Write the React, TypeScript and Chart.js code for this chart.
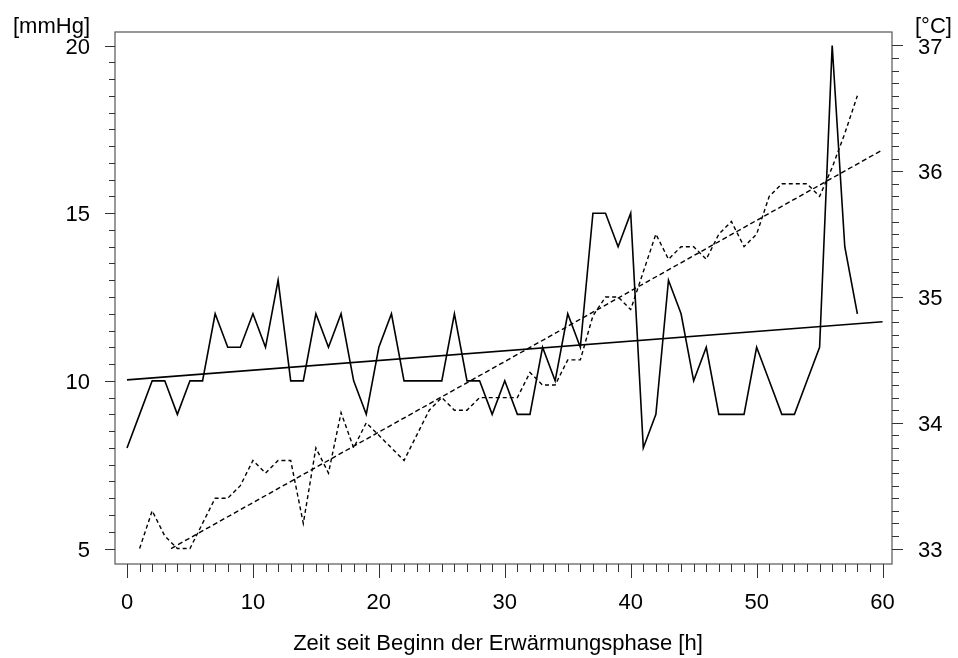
import React, { useEffect, useRef } from 'react';
import { Chart, registerables } from 'chart.js';

Chart.register(...registerables);

// ---- data ----
const pressureHours = [
  0, 1, 2, 3, 4, 5, 6, 7, 8, 9, 10, 11, 12, 13, 14, 15, 16, 17, 18, 19,
  20, 21, 22, 23, 24, 25, 26, 27, 28, 29, 30, 31, 32, 33, 34, 35, 36, 37, 38, 39,
  40, 41, 42, 43, 44, 45, 46, 47, 48, 49, 50, 51, 52, 53, 54, 55, 56, 57, 58,
];
const pressureValues = [
  8, 9, 10, 10, 9, 10, 10, 12, 11, 11, 12, 11, 13, 10, 10, 12, 11, 12, 10, 9,
  11, 12, 10, 10, 10, 10, 12, 10, 10, 9, 10, 9, 9, 11, 10, 12, 11, 15, 15, 14,
  15, 8, 9, 13, 12, 10, 11, 9, 9, 9, 11, 10, 9, 9, 10, 11, 20, 14, 12,
];
const tempHours = [
  1, 2, 3, 4, 5, 6, 7, 8, 9, 10, 11, 12, 13, 14, 15, 16, 17, 18, 19,
  20, 21, 22, 23, 24, 25, 26, 27, 28, 29, 30, 31, 32, 33, 34, 35, 36, 37, 38, 39,
  40, 41, 42, 43, 44, 45, 46, 47, 48, 49, 50, 51, 52, 53, 54, 55, 56, 57, 58,
];
const tempValues = [
  33.0, 33.3, 33.1, 33.0, 33.0, 33.2, 33.4, 33.4, 33.5, 33.7, 33.6, 33.7, 33.7, 33.2, 33.8, 33.6, 34.08, 33.8, 34.0,
  33.9, 33.8, 33.7, 33.9, 34.1, 34.2, 34.1, 34.1, 34.2, 34.2, 34.2, 34.2, 34.4, 34.3, 34.3, 34.5, 34.5, 34.85, 35.0, 35.0,
  34.9, 35.2, 35.5, 35.3, 35.4, 35.4, 35.3, 35.5, 35.6, 35.4, 35.5, 35.8, 35.9, 35.9, 35.9, 35.8, 36.03, 36.3, 36.6,
];
const pressureTrendHours = [0, 60];
const pressureTrendValues = [10.03, 11.76];
const tempTrendHours = [3.5, 60];
const tempTrendValues = [33.0, 36.17];

const xTickLabels = [0, 10, 20, 30, 40, 50, 60];
const leftTickLabels = [5, 10, 15, 20];
const rightTickLabels = [33, 34, 35, 36, 37];

const leftUnit = '[mmHg]';
const rightUnit = '[°C]';
const xTitle = 'Zeit seit Beginn der Erwärmungsphase [h]';

const FONT_FAMILY = '"Liberation Sans", Arial, Helvetica, sans-serif';
const FONT_SIZE = 22;

function toPoints(xs: number[], ys: number[]) {
  return xs.map((x, i) => ({ x, y: ys[i] }));
}

function isMajor(v: number, labels: number[]) {
  return labels.some((l) => Math.abs(l - v) < 1e-6);
}

function makeTicks(from: number, to: number, steps: number) {
  const out: { value: number }[] = [];
  for (let i = 0; i <= steps; i++) out.push({ value: from + ((to - from) * i) / steps });
  return out;
}

const framePlugin = {
  id: 'frameAndTicks',
  afterDraw(chart: any) {
    const { ctx, chartArea } = chart;
    const { left, right, top, bottom } = chartArea;
    ctx.save();
    ctx.strokeStyle = '#555';
    ctx.lineWidth = 1.2;
    ctx.strokeRect(left, top, right - left, bottom - top);

    ctx.lineWidth = 1;
    ctx.strokeStyle = '#333';
    const xs = chart.scales.x;
    xs.ticks.forEach((t: any) => {
      const px = Math.round(xs.getPixelForValue(t.value)) + 0.5;
      const len = isMajor(t.value, xTickLabels) ? 14 : 8;
      ctx.beginPath();
      ctx.moveTo(px, bottom);
      ctx.lineTo(px, bottom + len);
      ctx.stroke();
    });
    const ys = chart.scales.y;
    ys.ticks.forEach((t: any) => {
      const py = Math.round(ys.getPixelForValue(t.value)) + 0.5;
      const len = isMajor(t.value, leftTickLabels) ? 10 : 6;
      ctx.beginPath();
      ctx.moveTo(left, py);
      ctx.lineTo(left - len, py);
      ctx.stroke();
    });
    const y2 = chart.scales.y2;
    y2.ticks.forEach((t: any) => {
      const py = Math.round(y2.getPixelForValue(t.value)) + 0.5;
      const len = isMajor(t.value, rightTickLabels) ? 11 : 7;
      ctx.beginPath();
      ctx.moveTo(right, py);
      ctx.lineTo(right + len, py);
      ctx.stroke();
    });

    ctx.fillStyle = '#000';
    ctx.font = `${FONT_SIZE}px ${FONT_FAMILY}`;
    ctx.textBaseline = 'alphabetic';
    ctx.textAlign = 'left';
    ctx.fillText(leftUnit, 13, 33);
    ctx.fillText(rightUnit, 915, 33);
    ctx.textAlign = 'center';
    ctx.fillText(xTitle, 498, 650);
    ctx.restore();
  },
};

export default function App() {
  const ref = useRef<HTMLCanvasElement | null>(null);

  useEffect(() => {
    if (!ref.current) return;
    const font = { family: FONT_FAMILY, size: FONT_SIZE };
    const chart = new Chart(ref.current, {
      type: 'line',
      data: {
        datasets: [
          {
            data: toPoints(pressureHours, pressureValues),
            yAxisID: 'y',
            borderColor: '#000',
            borderWidth: 1.6,
            pointRadius: 0,
            pointHoverRadius: 0,
            tension: 0,
          },
          {
            data: toPoints(pressureTrendHours, pressureTrendValues),
            yAxisID: 'y',
            borderColor: '#000',
            borderWidth: 1.6,
            pointRadius: 0,
            pointHoverRadius: 0,
            tension: 0,
          },
          {
            data: toPoints(tempHours, tempValues),
            yAxisID: 'y2',
            borderColor: '#000',
            borderWidth: 1.4,
            borderDash: [4, 3],
            pointRadius: 0,
            pointHoverRadius: 0,
            tension: 0,
          },
          {
            data: toPoints(tempTrendHours, tempTrendValues),
            yAxisID: 'y2',
            borderColor: '#000',
            borderWidth: 1.4,
            borderDash: [5, 3],
            pointRadius: 0,
            pointHoverRadius: 0,
            tension: 0,
          },
        ],
      },
      options: {
        animation: false,
        responsive: false,
        maintainAspectRatio: false,
        layout: { padding: { top: 32, left: 0, right: 0, bottom: 0 }, autoPadding: false },
        plugins: { legend: { display: false }, tooltip: { enabled: false }, title: { display: false } },
        scales: {
          x: {
            type: 'linear',
            position: 'bottom',
            min: -0.953,
            max: 60.75,
            afterFit: (s: any) => { s.height = 94; s.paddingLeft = 0; s.paddingRight = 0; },
            afterBuildTicks: (s: any) => { s.ticks = makeTicks(0, 60, 60); },
            grid: { display: false, drawTicks: false },
            border: { display: false },
            ticks: {
              autoSkip: false,
              maxRotation: 0,
              minRotation: 0,
              padding: 26,
              color: '#000',
              font,
              callback: (v: any) => (isMajor(Number(v), xTickLabels) ? String(Math.round(Number(v))) : ''),
            },
          },
          y: {
            type: 'linear',
            position: 'left',
            min: 4.538,
            max: 20.403,
            afterFit: (s: any) => { s.width = 115; s.paddingTop = 0; s.paddingBottom = 0; },
            afterBuildTicks: (s: any) => { s.ticks = makeTicks(5, 20, 30); },
            grid: { display: false, drawTicks: false },
            border: { display: false },
            ticks: {
              autoSkip: false,
              padding: 25,
              labelOffset: 2,
              color: '#000',
              font,
              callback: (v: any) => (isMajor(Number(v), leftTickLabels) ? String(Math.round(Number(v))) : ''),
            },
          },
          y2: {
            type: 'linear',
            position: 'right',
            min: 32.877,
            max: 37.107,
            afterFit: (s: any) => { s.width = 66; s.paddingTop = 0; s.paddingBottom = 0; },
            afterBuildTicks: (s: any) => { s.ticks = makeTicks(33, 37, 40); },
            grid: { display: false, drawTicks: false },
            border: { display: false },
            ticks: {
              autoSkip: false,
              padding: 26,
              labelOffset: 2,
              color: '#000',
              font,
              callback: (v: any) => (isMajor(Number(v), rightTickLabels) ? String(Math.round(Number(v))) : ''),
            },
          },
        },
      },
      plugins: [framePlugin],
    } as any);
    return () => chart.destroy();
  }, []);

  return (
    <div style={{ position: 'fixed', left: 0, top: 0, width: 958, height: 658, background: '#fff' }}>
      <canvas ref={ref} width={958} height={658} style={{ width: 958, height: 658, display: 'block' }} />
    </div>
  );
}
